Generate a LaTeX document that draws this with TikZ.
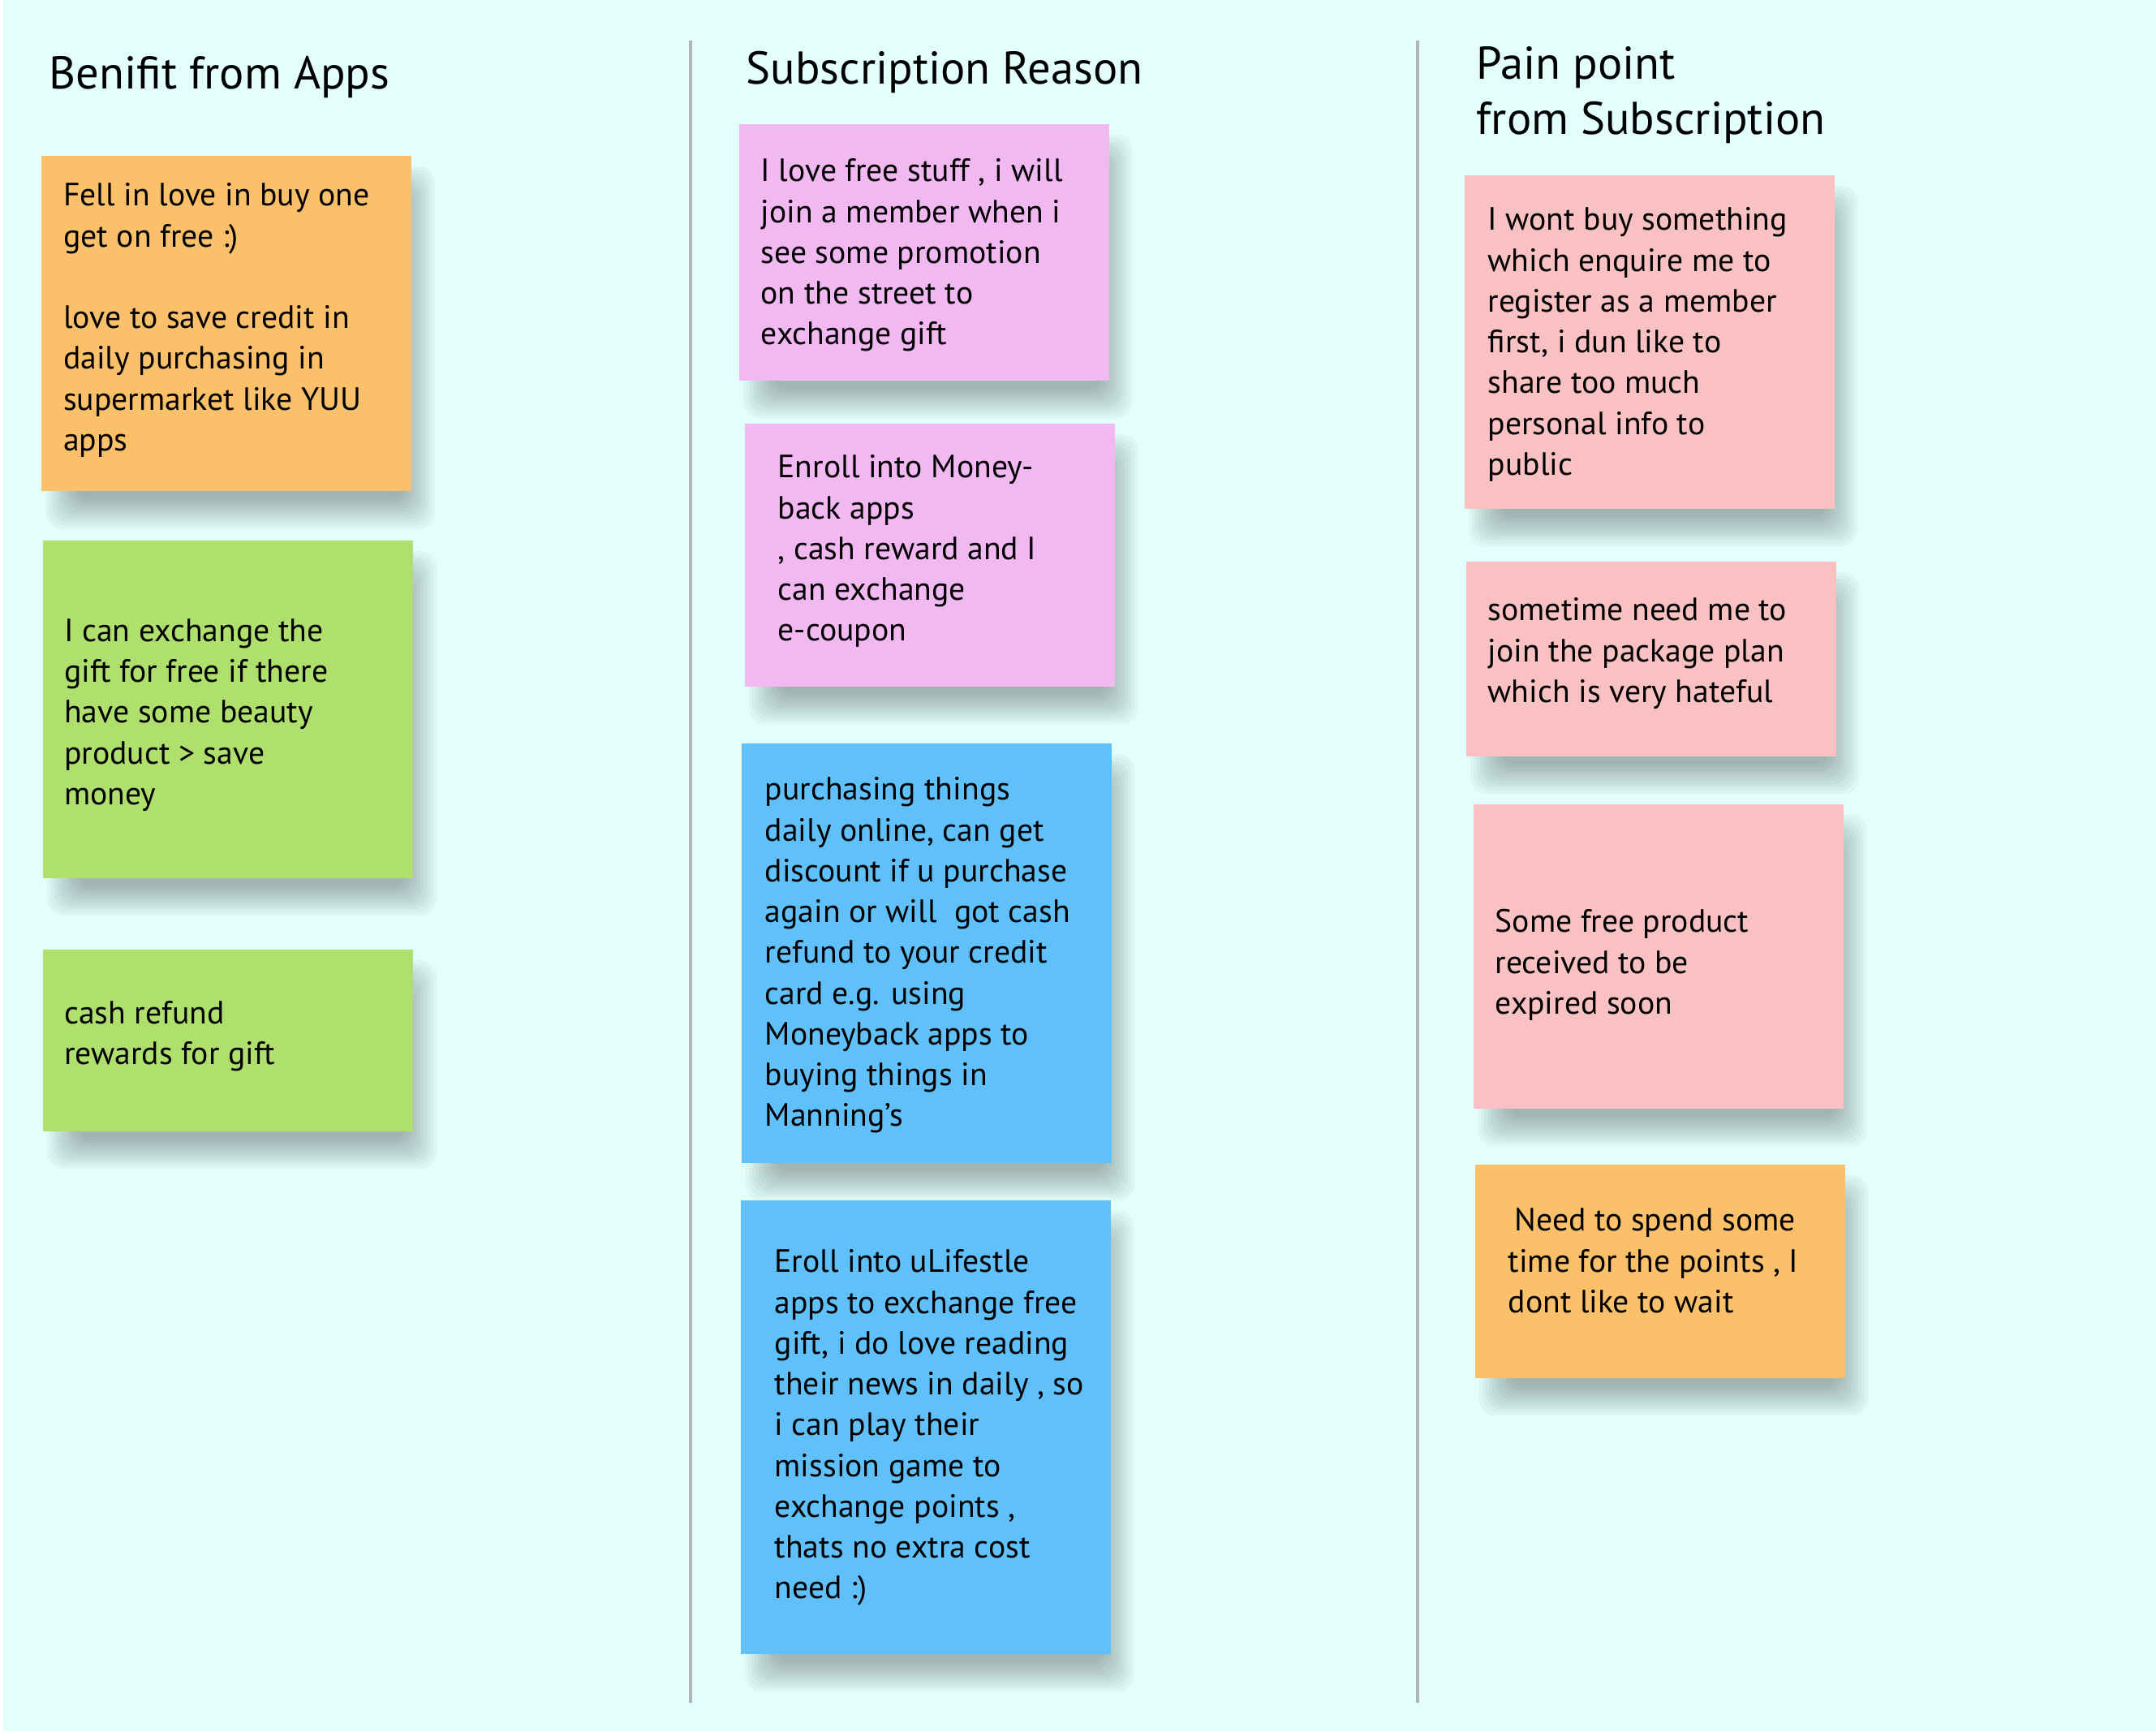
\documentclass[tikz,border=0pt]{standalone}
\usepackage{fontspec}
\setmainfont{PT Sans}
\usepackage{xcolor}
\usetikzlibrary{
    positioning,
    calc,
    backgrounds
}
\definecolor{bgCyan}{RGB}{227,255,252}
\definecolor{noteOrange}{RGB}{251,192,106}
\definecolor{noteGreen}{RGB}{175,224,110}
\definecolor{notePink}{RGB}{241,184,242}
\definecolor{noteBlue}{RGB}{96,193,250}
\definecolor{noteSalmon}{RGB}{249,193,193}
\definecolor{divGray}{RGB}{180,180,180}
\tikzset{
  note/.style     = {anchor=north west, inner sep=0pt, minimum width=4.56cm},
  notetext/.style = {anchor=north west, inner sep=0pt, align=left,
                     font=\fontsize{11.3}{14.3}\selectfont},
  heading/.style  = {anchor=north west, inner sep=0pt, align=left,
                     font=\fontsize{16.1}{19.4}\selectfont},
  divider/.style  = {divGray, line width=0.9pt},
  softshadow/.style = {black, opacity=0.03, rounded corners=0.2cm}
}

\begin{document}
\begin{tikzpicture}
    \useasboundingbox (0,0) rectangle (26.57,21.34);

    \coordinate (div1top) at (8.51,20.84);
    \coordinate (div1bot) at (8.51,0.36);
    \coordinate (div2top) at (17.47,20.84);
    \coordinate (div2bot) at (17.47,0.36);
    \draw[divider] (div1top) -- (div1bot);
    \draw[divider] (div2top) -- (div2bot);

    \node[heading] (hBenefit) at (0.60,20.65) {Benifit from Apps};
    \node[heading] (hReason)  at (9.19,20.71) {Subscription Reason};
    \node[heading] (hPain)    at (18.19,20.77) {Pain point\\from Subscription};

    \node[note, fill=noteOrange, minimum height=4.13cm] (bfa1) at (0.505,19.43) {};
    \node[note, fill=noteGreen,  minimum height=4.16cm] (bfa2) at (0.525,14.69) {};
    \node[note, fill=noteGreen,  minimum height=2.24cm] (bfa3) at (0.525,9.65) {};

    \node[note, fill=notePink, minimum height=3.16cm] (sr1) at (9.10,19.82) {};
    \node[note, fill=notePink, minimum height=3.24cm] (sr2) at (9.17,16.13) {};
    \node[note, fill=noteBlue, minimum height=5.17cm] (sr3) at (9.13,12.19) {};
    \node[note, fill=noteBlue, minimum height=5.59cm] (sr4) at (9.12,6.56) {};

    \node[note, fill=noteSalmon, minimum height=4.11cm] (pp1) at (18.04,19.19) {};
    \node[note, fill=noteSalmon, minimum height=2.40cm] (pp2) at (18.06,14.43) {};
    \node[note, fill=noteSalmon, minimum height=3.75cm] (pp3) at (18.15,11.44) {};
    \node[note, fill=noteOrange, minimum height=2.63cm] (pp4) at (18.17,7.00) {};

    \begin{scope}[on background layer]
      \fill[white] (0,0) rectangle (26.57,21.34);
      \fill[bgCyan] (0.04,0.01) rectangle (26.57,21.34);
      \foreach \n in {bfa1,bfa2,bfa3,sr1,sr2,sr3,sr4,pp1,pp2,pp3,pp4}
        \foreach \k in {1,...,10}
          \fill[softshadow]
            ($(\n.north west)+(0.02+\k*0.04,-0.1-\k*0.04)$) rectangle
            ($(\n.south east)+(0.32-\k*0.04,-0.5+\k*0.04)$);
    \end{scope}

    \node[notetext, below right=0.34cm and 0.27cm of bfa1.north west] (bfa1txt)
      {Fell in love in buy one\\get on free :)\\[14.3pt]love to save credit in\\
       daily purchasing in\\supermarket like YUU\\apps};
    \node[notetext, below right=0.97cm and 0.26cm of bfa2.north west] (bfa2txt)
      {I can exchange the\\gift for free if there\\have some beauty\\
       product > save\\money};
    \node[notetext, below right=0.64cm and 0.26cm of bfa3.north west] (bfa3txt)
      {cash refund\\rewards for gift};

    \node[notetext, below right=0.43cm and 0.27cm of sr1.north west] (sr1txt)
      {I love free stuff , i will\\join a member when i\\see some promotion\\
       on the street to\\exchange gift};
    \node[notetext, below right=0.39cm and 0.41cm of sr2.north west] (sr2txt)
      {Enroll into Money-\\back apps\\, cash reward and I\\can exchange\\e-coupon};
    \node[notetext, below right=0.42cm and 0.29cm of sr3.north west] (sr3txt)
      {purchasing things\\daily online, can get\\discount if u purchase\\
       again or will \ got cash\\refund to your credit\\card e.g. using\\
       Moneyback apps to\\buying things in\\Manning’s};
    \node[notetext, below right=0.61cm and 0.42cm of sr4.north west] (sr4txt)
      {Eroll into uLifestle\\apps to exchange free\\gift, i do love reading\\
       their news in daily , so\\i can play their\\mission game to\\
       exchange points ,\\thats no extra cost\\need :)};

    \node[notetext, below right=0.40cm and 0.29cm of pp1.north west] (pp1txt)
      {I wont buy something\\which enquire me to\\register as a member\\
       first, i dun like to\\share too much\\personal info to\\public};
    \node[notetext, below right=0.45cm and 0.27cm of pp2.north west] (pp2txt)
      {sometime need me to\\join the package plan\\which is very hateful};
    \node[notetext, below right=1.30cm and 0.27cm of pp3.north west] (pp3txt)
      {Some free product\\received to be\\expired soon};
    \node[notetext, below right=0.54cm and 0.41cm of pp4.north west] (pp4txt)
      {\hspace*{0.08cm}Need to spend some\\time for the points , I\\dont like to wait};
\end{tikzpicture}
\end{document}
